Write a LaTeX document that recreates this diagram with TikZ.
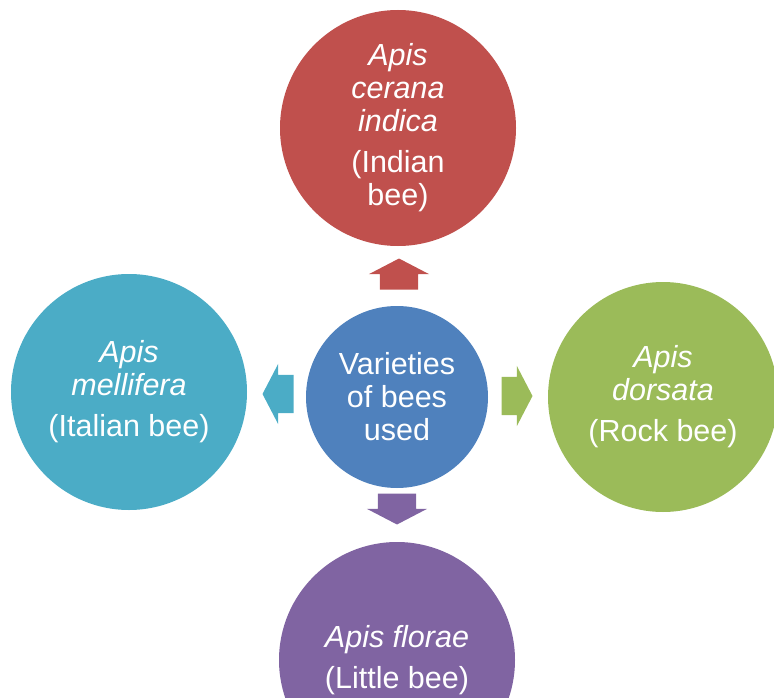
\documentclass[tikz,border=0pt]{standalone}
\usepackage{fontspec}
\setmainfont{Liberation Sans}
\usetikzlibrary{shapes.arrows}
\definecolor{beeRed}{HTML}{C0504D}
\definecolor{beeTeal}{HTML}{4BACC6}
\definecolor{beeGreen}{HTML}{9BBB59}
\definecolor{beePurple}{HTML}{8064A2}
\definecolor{beeBlue}{HTML}{4F81BD}
\begin{document}
\begin{tikzpicture}[x=1pt,y=-1pt,
    bubble/.style={circle,minimum size=236pt,inner sep=0pt,text=white,align=center,
      font=\fontsize{30.5}{33}\selectfont},
    blockarrow/.style={single arrow,minimum height=31pt,inner xsep=0pt,inner ysep=19pt,
      single arrow head extend=11pt,single arrow tip angle=125}]
        \useasboundingbox (0,0) rectangle (774,698);
        \clip (0,0) rectangle (774,698);
        %% block arrows out of the centre
        \node[blockarrow,fill=beeRed,rotate=90] (upArrow) at (399,279) {};
        \node[blockarrow,fill=beeTeal,rotate=180] (leftArrow) at (283,394) {};
        \node[blockarrow,fill=beeGreen] (rightArrow) at (512,396) {};
        \node[blockarrow,fill=beePurple,rotate=270] (downArrow) at (397,504) {};
        %% the varieties
        \node[bubble,fill=beeRed] (indica) at (398,128)
            {\textit{Apis}\\\textit{cerana}\\\textit{indica}\\[8pt](Indian\\bee)};
        \node[bubble,fill=beeTeal] (mellifera) at (129,392)
            {\textit{Apis}\\\textit{mellifera}\\[8pt](Italian bee)};
        \node[bubble,fill=beeGreen,minimum size=230pt] (dorsata) at (663,397)
            {\textit{Apis}\\\textit{dorsata}\\[8pt](Rock bee)};
        \node[bubble,fill=beePurple] (florae) at (397,660)
            {\textit{Apis florae}\\[8pt](Little bee)};
        %% centre
        \node[bubble,fill=beeBlue,minimum size=182pt] (varieties) at (397,397)
            {Varieties\\of bees\\used};
    \end{tikzpicture}
\end{document}
